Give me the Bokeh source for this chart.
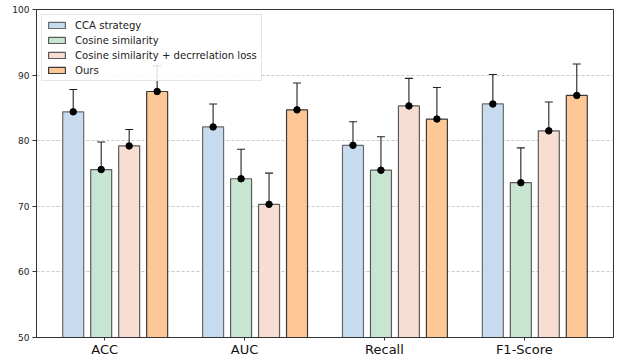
from bokeh.plotting import figure
from bokeh.models import (ColumnDataSource, Range1d, FixedTicker, Whisker, TeeHead,
                          Legend, LegendItem)
from bokeh.embed import file_html
from bokeh.resources import INLINE

categories = ["ACC", "AUC", "Recall", "F1-Score"]
series_names = ["CCA strategy", "Cosine similarity",
                "Cosine similarity + decrrelation loss", "Ours"]

cca = [84.4, 82.1, 79.3, 85.6]
cca_err = [3.4, 3.5, 3.6, 4.5]
cosine = [75.6, 74.2, 75.5, 73.6]
cosine_err = [4.2, 4.5, 5.1, 5.3]
decor = [79.2, 70.3, 85.3, 81.5]
decor_err = [2.5, 4.75, 4.2, 4.4]
ours = [87.5, 84.7, 83.3, 86.9]
ours_err = [3.9, 4.1, 4.8, 4.8]

y_ticks = [50, 60, 70, 80, 90, 100]

values = [cca, cosine, decor, ours]
errors = [cca_err, cosine_err, decor_err, ours_err]
fills = ["#c6dcee", "#c8e5d2", "#f8ded2", "#fdc896"]
edges = ["#6a6a6a", "#5a5a5a", "#5a5a5a", "#3a3a3a"]

FONT = "DejaVu Sans"
bar_w = 0.15
step = 0.2

p = figure(width=618, height=360, output_backend="svg", toolbar_location=None,
           x_range=Range1d(-0.4875, 3.6375), y_range=Range1d(50, 100),
           min_border_left=36, min_border_right=5, min_border_top=9,
           min_border_bottom=23)

p.background_fill_color = "white"
p.border_fill_color = "white"
p.outline_line_color = "#333333"
p.outline_line_width = 1

legend_items = []
for i, (vals, errs) in enumerate(zip(values, errors)):
    xs = [k + i * step - 0.3 + bar_w / 2 for k in range(len(categories))]
    src = ColumnDataSource(dict(
        x=xs, top=vals,
        upper=[v + e for v, e in zip(vals, errs)],
        lower=[v - e for v, e in zip(vals, errs)],
    ))
    r = p.vbar(x="x", top="top", bottom=0, width=bar_w, source=src,
               fill_color=fills[i], line_color=edges[i], line_width=1.2)
    legend_items.append(LegendItem(label=series_names[i], renderers=[r]))
    w = Whisker(base="x", upper="upper", lower="lower", source=src,
                line_color="#222222", line_width=1.1,
                upper_head=TeeHead(size=8, line_color="#222222", line_width=1.1),
                lower_head=TeeHead(size=8, line_color="#222222", line_width=1.1))
    p.add_layout(w)
    p.scatter(x="x", y="top", source=src, size=6.5, color="black")

legend = Legend(items=legend_items, location="top_left")
legend.label_text_font = FONT
legend.label_text_font_size = "10.1px"
legend.label_text_color = "#222222"
legend.glyph_width = 21
legend.glyph_height = 8
legend.label_height = 12
legend.label_standoff = 8
legend.spacing = 3
legend.padding = 4
legend.margin = 5
legend.border_line_color = "#cccccc"
legend.border_line_width = 1
legend.background_fill_alpha = 0.85
p.add_layout(legend)

p.xaxis.ticker = FixedTicker(ticks=[k for k in range(len(categories))])
p.xaxis.major_label_overrides = {k: c for k, c in enumerate(categories)}
p.xaxis.major_label_text_font = FONT
p.xaxis.major_label_text_font_size = "13px"
p.xaxis.major_label_text_line_height = 1.0
p.xaxis.major_label_text_color = "#111111"
p.xaxis.major_label_standoff = 1
p.xaxis.major_tick_out = 3
p.xaxis.major_tick_in = 0
p.xaxis.minor_tick_line_color = None
p.xaxis.axis_line_color = "#333333"
p.xaxis.major_tick_line_color = "#333333"

p.yaxis.ticker = FixedTicker(ticks=y_ticks)
p.yaxis.major_label_text_font = FONT
p.yaxis.major_label_text_font_size = "9px"
p.yaxis.major_label_text_color = "#222222"
p.yaxis.major_label_standoff = 3
p.yaxis.major_tick_out = 4
p.yaxis.major_tick_in = 0
p.yaxis.minor_tick_line_color = None
p.yaxis.axis_line_color = "#333333"
p.yaxis.major_tick_line_color = "#333333"

p.xgrid.visible = False
p.ygrid.grid_line_color = "#bbbbbb"
p.ygrid.grid_line_dash = "3 2"
p.ygrid.grid_line_alpha = 0.8

open("out.html", "w").write(file_html(p, INLINE))
